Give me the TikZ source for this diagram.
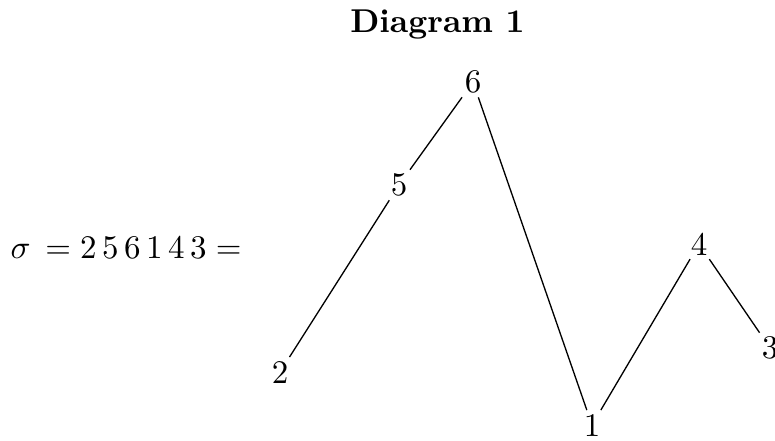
\documentclass[tikz,border=0pt]{standalone}
\usepackage{amsmath}
\usepackage{amssymb}
\usepackage{tikz}

\begin{document}
\begin{tikzpicture}[x=0.303pt,y=-0.303pt,num/.style={inner sep=1pt}]
					\useasboundingbox (0,0) rectangle (775,440);
					
					\node (title) [anchor=base] at (437.5,32) {\textbf{Diagram 1}};
					\node (perm) [anchor=base west,inner sep=0pt] at (10,258) {$\sigma\,= 2\,5\,6\,1\,4\,3 =$};
					
					\node[num] (two) at (280,372) {2};
					\node[num] (five) at (399,185) {5};
					\node[num] (six) at (473,82) {6};
					\node[num] (one) at (592,425) {1};
					\node[num] (four) at (699,244) {4};
					\node[num] (three) at (770,348) {3};
					
					\draw (two) -- (five);
					\draw (five) -- (six);
					\draw (six) -- (one);
					\draw (one) -- (four);
					\draw (four) -- (three);
				\end{tikzpicture}
\end{document}
